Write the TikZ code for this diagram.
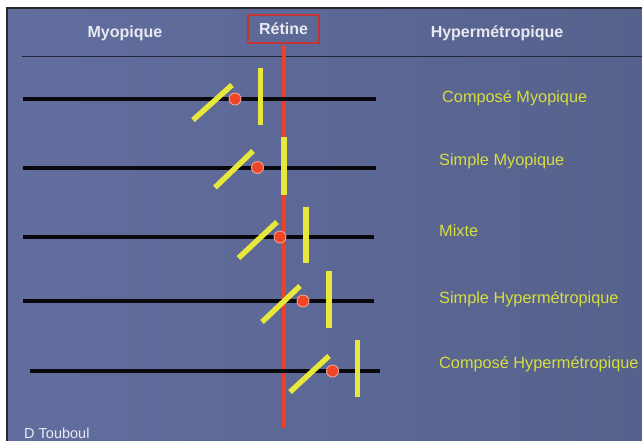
\documentclass[tikz,border=0pt]{standalone}
\usepackage{fontspec}
\setmainfont{Liberation Sans}
\definecolor{bgA}{RGB}{98,110,158}
\definecolor{bgB}{RGB}{86,97,140}
\definecolor{axis}{RGB}{10,10,14}
\definecolor{lens}{RGB}{232,232,60}
\definecolor{lbl}{RGB}{214,222,62}
\definecolor{retred}{RGB}{236,64,40}
\definecolor{boxred}{RGB}{196,52,52}
\definecolor{dotred}{RGB}{240,70,40}
\definecolor{hdr}{RGB}{232,234,242}
\tikzset{
  axisline/.style={draw=axis, line width=4pt},
  lensbar/.style={draw=lens, line width=5.4pt},
  focdot/.style={circle, fill=dotred, draw={rgb,255:red,240;green,160;blue,150}, line width=0.9pt, minimum size=12pt, inner sep=0pt},
  rowlbl/.style={anchor=west, text=lbl, font=\fontsize{16.3}{19}\selectfont, inner sep=0pt},
  headlbl/.style={text=hdr, font=\bfseries\fontsize{16}{19}\selectfont, inner sep=0pt},
}
\begin{document}
\begin{tikzpicture}[x=1pt,y=-1pt]
\useasboundingbox (0,0) rectangle (642,440);
\fill[white] (0,0) rectangle (642,440);
\shade[left color=bgA, right color=bgB] (7,8) rectangle (650,450);
\draw[draw={rgb,255:red,40;green,40;blue,48}, line width=1.4pt] (7,450) -- (7,8) -- (650,8);
% headers
\node[headlbl] (myo) at (125,33) {Myopique};
\node[headlbl] (hyp) at (497,33) {Hypermétropique};
\node[headlbl, draw=boxred, line width=1.3pt, minimum width=71pt, minimum height=28pt] (ret) at (283.5,29) {Rétine};
\coordinate (hl) at (22,56.5);
\coordinate (hr) at (642,56.5);
\draw[draw={rgb,255:red,35;green,38;blue,58}, line width=1.2pt] (hl) -- (hr);
% retina line
\coordinate (rbot) at (284,428);
\draw[retred, line width=3.6pt] (ret.south -| rbot) ++(0,2) -- (rbot);
% rows
\foreach \n/\y/\xl/\xr/\sa/\sb/\sc/\sd/\dx/\vx/\vt/\vb in {
  1/99/23/376/193/120/232/85/235/260.5/68/125,
  2/167.5/23/376/215/187.5/253/151/257.5/284/137/195,
  3/237/23/374/238.5/258/277/222/280/306/207/263,
  4/301/23/374/262/322/300/286/303/329/271/328,
  5/371/30/380/290/392/329/356/332.5/357.5/340/397}{
  \coordinate (a\n l) at (\xl,\y);
  \coordinate (a\n r) at (\xr,\y);
  \draw[axisline] (a\n l) -- (a\n r);
  \coordinate (s\n a) at (\sa,\sb);
  \coordinate (s\n b) at (\sc,\sd);
  \draw[lensbar] (s\n a) -- (s\n b);
  \coordinate (v\n t) at (\vx,\vt);
  \coordinate (v\n b) at (\vx,\vb);
  \draw[lensbar] (v\n t) -- (v\n b);
  \node[focdot] (f\n) at (\dx,\y) {};
}
\node[rowlbl] (l1) at (442,98) {Composé Myopique};
\node[rowlbl] (l2) at (439,161) {Simple Myopique};
\node[rowlbl] (l3) at (439,231) {Mixte};
\node[rowlbl] (l4) at (439,299) {Simple Hypermétropique};
\node[rowlbl] (l5) at (439,364) {Composé Hypermétropique};
\node[anchor=west, text=hdr, font=\fontsize{14.5}{17}\selectfont, inner sep=0pt] (auth) at (24,433) {D Touboul};
\end{tikzpicture}
\end{document}
